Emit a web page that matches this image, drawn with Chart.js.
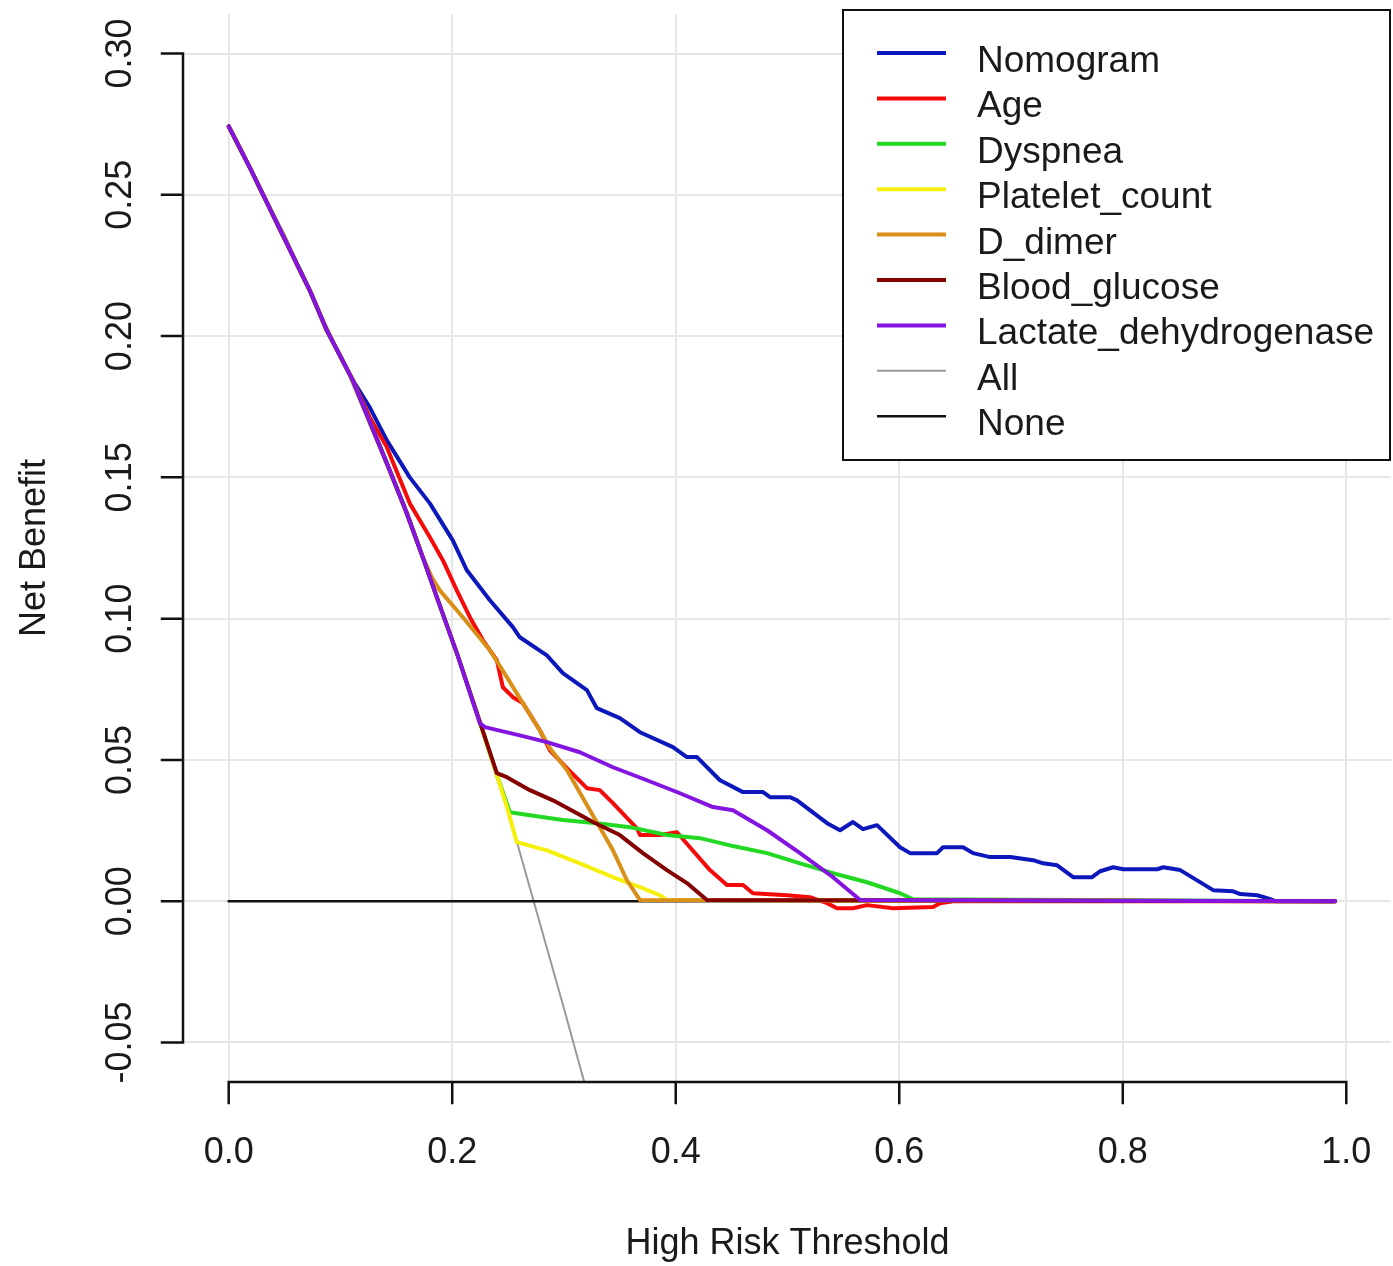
<!DOCTYPE html>
<html>
<head>
<meta charset="utf-8">
<title>Decision curve analysis</title>
<script src="https://cdn.jsdelivr.net/npm/chart.js@4.4.1/dist/chart.umd.min.js"></script>
<style>
  html, body { margin: 0; padding: 0; background: #fff; }
  canvas { display: block; }
</style>
</head>
<body>
<canvas id="dca" width="1393" height="1266"></canvas>
<script>
// tick values for both axes
const thresholdTicks = [0, 0.2, 0.4, 0.6, 0.8, 1.0];
const benefitTicks = [-0.05, 0, 0.05, 0.10, 0.15, 0.20, 0.25, 0.30];

// threshold (T) and net benefit (NB) for each curve
const nomogramT  = [0, 0.0188, 0.0725, 0.0877, 0.111, 0.1262, 0.1415, 0.162, 0.18, 0.2005, 0.2131, 0.2337, 0.2543, 0.2605, 0.2847, 0.299, 0.3205, 0.3294, 0.35, 0.368, 0.3975, 0.41, 0.419, 0.4396, 0.4602, 0.4781, 0.4843, 0.5022, 0.5085, 0.5354, 0.547, 0.5586, 0.5676, 0.5801, 0.6007, 0.6097, 0.6338, 0.6392, 0.6571, 0.6661, 0.6813, 0.6992, 0.7198, 0.7287, 0.7413, 0.7556, 0.7726, 0.7798, 0.7914, 0.8004, 0.8308, 0.8362, 0.8514, 0.8809, 0.8988, 0.9051, 0.9203, 0.932, 0.9364, 0.99];
const nomogramNB = [0.2742, 0.2597, 0.2162, 0.2021, 0.1844, 0.1748, 0.1631, 0.15, 0.1408, 0.1277, 0.1171, 0.1065, 0.097, 0.0934, 0.087, 0.0807, 0.0747, 0.0683, 0.0648, 0.0598, 0.0545, 0.051, 0.051, 0.0428, 0.0386, 0.0386, 0.0368, 0.0368, 0.0357, 0.0276, 0.0251, 0.028, 0.0255, 0.0269, 0.0191, 0.017, 0.017, 0.0191, 0.0191, 0.017, 0.0156, 0.0156, 0.0145, 0.0134, 0.0127, 0.0085, 0.0085, 0.0106, 0.012, 0.0113, 0.0113, 0.012, 0.011, 0.0039, 0.0035, 0.0025, 0.0021, 0.0007, 0, 0];

const ageT  = [0, 0.0188, 0.0725, 0.0877, 0.111, 0.1262, 0.1415, 0.162, 0.18, 0.1916, 0.2041, 0.2158, 0.2274, 0.2399, 0.2453, 0.2543, 0.2632, 0.2784, 0.2874, 0.3026, 0.3205, 0.3321, 0.3438, 0.3653, 0.368, 0.3859, 0.4011, 0.4127, 0.4306, 0.4458, 0.4602, 0.4691, 0.4996, 0.5201, 0.5354, 0.5443, 0.5586, 0.5712, 0.5945, 0.6303, 0.6365, 0.6482, 0.99];
const ageNB = [0.2742, 0.2597, 0.2162, 0.2021, 0.1844, 0.1713, 0.1607, 0.1408, 0.1288, 0.1207, 0.11, 0.1005, 0.0924, 0.0853, 0.0757, 0.0722, 0.0701, 0.0605, 0.0534, 0.0471, 0.04, 0.0393, 0.0347, 0.0258, 0.0234, 0.0234, 0.0244, 0.0191, 0.011, 0.0057, 0.0057, 0.0028, 0.0021, 0.0014, -0.0007, -0.0025, -0.0025, -0.0014, -0.0025, -0.0021, -0.0007, 0, 0];

const dyspneaT  = [0, 0.0188, 0.0725, 0.0877, 0.111, 0.1415, 0.1594, 0.1737, 0.1862, 0.205, 0.2247, 0.2399, 0.2516, 0.2695, 0.299, 0.3295, 0.359, 0.3921, 0.4217, 0.4512, 0.4817, 0.5112, 0.5407, 0.5712, 0.6007, 0.6124, 0.99];
const dyspneaNB = [0.2742, 0.2597, 0.2162, 0.2021, 0.1844, 0.155, 0.1373, 0.1217, 0.1076, 0.0868, 0.0635, 0.0447, 0.0315, 0.0304, 0.0287, 0.0276, 0.0262, 0.0234, 0.0223, 0.0195, 0.017, 0.0134, 0.0099, 0.0067, 0.0028, 0.0007, 0];

const plateletT  = [0, 0.0188, 0.0725, 0.0877, 0.111, 0.1415, 0.1594, 0.1737, 0.1862, 0.205, 0.2247, 0.2399, 0.2489, 0.2578, 0.2847, 0.3142, 0.3438, 0.368, 0.3859, 0.3921, 0.99];
const plateletNB = [0.2742, 0.2597, 0.2162, 0.2021, 0.1844, 0.155, 0.1373, 0.1217, 0.1076, 0.0868, 0.0635, 0.0447, 0.0334, 0.0209, 0.018, 0.0134, 0.0085, 0.005, 0.0021, 0.0004, 0];

const dDimerT  = [0, 0.0188, 0.0725, 0.0877, 0.111, 0.1415, 0.1594, 0.1737, 0.1817, 0.1889, 0.2095, 0.2337, 0.2489, 0.2632, 0.2784, 0.2874, 0.3026, 0.3232, 0.3438, 0.3563, 0.368, 0.99];
const dDimerNB = [0.2742, 0.2597, 0.2162, 0.2021, 0.1844, 0.155, 0.1373, 0.1217, 0.1146, 0.11, 0.1005, 0.0888, 0.0793, 0.0701, 0.0605, 0.0541, 0.0464, 0.0322, 0.018, 0.0074, 0.0004, 0];

const glucoseT  = [0, 0.0188, 0.0725, 0.0877, 0.111, 0.1415, 0.1594, 0.1737, 0.1862, 0.205, 0.2247, 0.2399, 0.2489, 0.2695, 0.2901, 0.3116, 0.3259, 0.35, 0.3706, 0.3921, 0.41, 0.4279, 0.99];
const glucoseNB = [0.2742, 0.2597, 0.2162, 0.2021, 0.1844, 0.155, 0.1373, 0.1217, 0.1076, 0.0868, 0.0635, 0.0453, 0.0439, 0.0393, 0.0357, 0.0311, 0.028, 0.0234, 0.017, 0.011, 0.0064, 0.0004, 0];

const ldhT  = [0, 0.0188, 0.0725, 0.0877, 0.111, 0.1415, 0.1594, 0.1737, 0.1862, 0.205, 0.2247, 0.2292, 0.2605, 0.2847, 0.3142, 0.3438, 0.3742, 0.4038, 0.4333, 0.4512, 0.4817, 0.5112, 0.5407, 0.565, 0.99];
const ldhNB = [0.2742, 0.2597, 0.2162, 0.2021, 0.1844, 0.155, 0.1373, 0.1217, 0.1076, 0.0868, 0.063, 0.0616, 0.0587, 0.0563, 0.0527, 0.0474, 0.0428, 0.0382, 0.0333, 0.0322, 0.0251, 0.017, 0.0085, 0.0004, 0];

const allT  = [0, 0.05, 0.1, 0.15, 0.2, 0.25, 0.3, 0.33];
const allNB = [0.2742, 0.236, 0.193, 0.146, 0.0925, 0.032, -0.038, -0.081];

const noneT  = [0, 0.99];
const noneNB = [0, 0];

function pts(t, nb) {
  return t.map((v, i) => ({ x: v, y: nb[i] }));
}

const FONT = '36px "Liberation Sans", Arial, sans-serif';
const LEGEND_FONT = '37px "Liberation Sans", Arial, sans-serif';
const INK = '#1a1a1a';

// R draws later curves on top; lower "order" is drawn last in Chart.js
const datasets = [
  { label: 'Nomogram', data: pts(nomogramT, nomogramNB), borderColor: '#0c18bc', borderWidth: 4, order: 6 },
  { label: 'Age', data: pts(ageT, ageNB), borderColor: '#f50a0a', borderWidth: 4, order: 5 },
  { label: 'Dyspnea', data: pts(dyspneaT, dyspneaNB), borderColor: '#22d822', borderWidth: 4, order: 4 },
  { label: 'Platelet_count', data: pts(plateletT, plateletNB), borderColor: '#f5f00a', borderWidth: 4, order: 3 },
  { label: 'D_dimer', data: pts(dDimerT, dDimerNB), borderColor: '#d98f18', borderWidth: 4, order: 2 },
  { label: 'Blood_glucose', data: pts(glucoseT, glucoseNB), borderColor: '#840000', borderWidth: 4, order: 1 },
  { label: 'Lactate_dehydrogenase', data: pts(ldhT, ldhNB), borderColor: '#8414e0', borderWidth: 4, order: 0 },
  { label: 'All', data: pts(allT, allNB), borderColor: '#999999', borderWidth: 2, order: 8 },
  { label: 'None', data: pts(noneT, noneNB), borderColor: '#111111', borderWidth: 2.5, order: 7 }
];

// axes, labels and the boxed legend in the style of base R graphics
const rStyle = {
  id: 'rStyle',
  afterDraw(chart) {
    const { ctx, chartArea: area, scales: { x, y } } = chart;
    ctx.save();
    ctx.strokeStyle = '#111';
    ctx.lineWidth = 2.5;
    ctx.lineCap = 'square';

    // left axis
    const ax = area.left - 1;
    ctx.beginPath();
    ctx.moveTo(ax, y.getPixelForValue(benefitTicks[0]));
    ctx.lineTo(ax, y.getPixelForValue(benefitTicks[benefitTicks.length - 1]));
    benefitTicks.forEach(v => {
      const py = y.getPixelForValue(v);
      ctx.moveTo(ax, py);
      ctx.lineTo(ax - 21, py);
    });
    // bottom axis
    const ay = area.bottom;
    ctx.moveTo(x.getPixelForValue(thresholdTicks[0]), ay);
    ctx.lineTo(x.getPixelForValue(thresholdTicks[thresholdTicks.length - 1]), ay);
    thresholdTicks.forEach(v => {
      const px = x.getPixelForValue(v);
      ctx.moveTo(px, ay);
      ctx.lineTo(px, ay + 21);
    });
    ctx.stroke();

    ctx.fillStyle = INK;
    ctx.font = FONT;
    ctx.textAlign = 'center';
    ctx.textBaseline = 'alphabetic';
    thresholdTicks.forEach(v => ctx.fillText(v.toFixed(1), x.getPixelForValue(v), 1163));
    benefitTicks.forEach(v => {
      ctx.save();
      ctx.translate(131, y.getPixelForValue(v));
      ctx.rotate(-Math.PI / 2);
      ctx.fillText(v.toFixed(2), 0, 0);
      ctx.restore();
    });
    ctx.fillText('High Risk Threshold', (area.left + area.right) / 2, 1254);
    ctx.save();
    ctx.translate(45, (area.top + area.bottom) / 2);
    ctx.rotate(-Math.PI / 2);
    ctx.fillText('Net Benefit', 0, 0);
    ctx.restore();

    // legend
    const box = { left: 843, top: 10, width: 547, height: 450 };
    ctx.fillStyle = '#fff';
    ctx.fillRect(box.left, box.top, box.width, box.height);
    ctx.lineWidth = 2;
    ctx.strokeStyle = '#111';
    ctx.strokeRect(box.left, box.top, box.width, box.height);
    ctx.textAlign = 'left';
    ctx.font = LEGEND_FONT;
    chart.data.datasets.forEach((ds, i) => {
      const ly = 53 + i * 45.4;
      ctx.beginPath();
      ctx.strokeStyle = ds.borderColor;
      ctx.lineWidth = ds.borderWidth;
      ctx.lineCap = 'butt';
      ctx.moveTo(877, ly);
      ctx.lineTo(946, ly);
      ctx.stroke();
      ctx.fillStyle = INK;
      ctx.fillText(ds.label, 977, ly + 19);
    });
    ctx.restore();
  }
};

new Chart(document.getElementById('dca'), {
  type: 'line',
  data: { datasets },
  options: {
    responsive: false,
    animation: false,
    events: [],
    layout: { padding: { top: 14, right: 2, left: 0, bottom: 0 } },
    elements: {
      point: { radius: 0 },
      line: { tension: 0, fill: false, borderJoinStyle: 'round', borderCapStyle: 'round' }
    },
    scales: {
      x: {
        type: 'linear',
        min: -0.04,
        max: 1.04,
        afterBuildTicks: s => { s.ticks = thresholdTicks.map(v => ({ value: v })); },
        afterFit: s => { s.height = 184; },
        ticks: { display: false },
        grid: { color: '#e6e6e6', lineWidth: 2, drawTicks: false },
        border: { display: false }
      },
      y: {
        type: 'linear',
        min: -0.064,
        max: 0.314,
        afterBuildTicks: s => { s.ticks = benefitTicks.map(v => ({ value: v })); },
        afterFit: s => { s.width = 184; },
        ticks: { display: false },
        grid: { color: '#e6e6e6', lineWidth: 2, drawTicks: false },
        border: { display: false }
      }
    },
    plugins: {
      legend: { display: false },
      tooltip: { enabled: false }
    }
  },
  plugins: [rStyle]
});
</script>
</body>
</html>
